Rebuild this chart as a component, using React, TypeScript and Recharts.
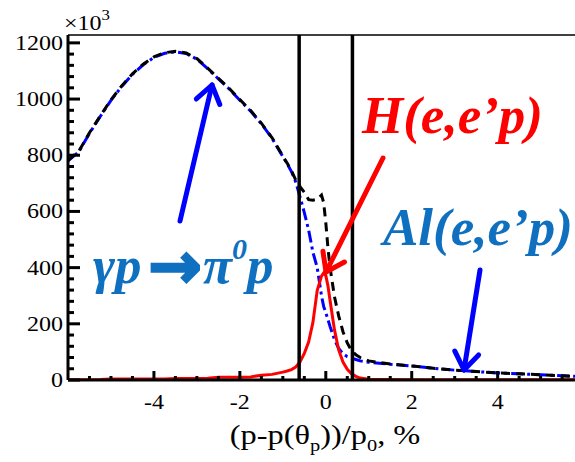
import React from "react";
import { ComposedChart, Line, XAxis, YAxis, ReferenceLine } from "recharts";

const SERIF = "'Liberation Serif', 'Times New Roman', serif";
const ANNOT_BLUE = "#1070c0";

// momentum deviation, % (bin centres)
const xs = [
  -6, -5.75, -5.5, -5.25, -5, -4.75, -4.5, -4.25, -4, -3.75, -3.5, -3.25, -3,
  -2.75, -2.5, -2.25, -2, -1.75, -1.5, -1.25, -1, -0.9, -0.8, -0.7, -0.6, -0.5,
  -0.4, -0.3, -0.2, -0.1, -0.05, 0, 0.05, 0.1, 0.2, 0.3, 0.4, 0.5, 0.6, 0.7, 0.8,
  1, 1.25, 1.5, 2, 2.5, 3, 3.5, 4, 4.5, 5, 5.5, 5.8,
];

// gamma p -> pi0 p simulation (x10^3 counts)
const pionCounts = [
  780, 812, 878, 938, 995, 1045, 1088, 1122, 1148, 1163, 1168, 1162, 1142,
  1108, 1072, 1036, 996, 957, 912, 860, 795, 770, 742, 705, 652, 596,
  534, 455, 400, 300, 262, 240, 215, 190, 145, 112, 94, 83, 78, 73, 68,
  63, 60, 56, 50, 42, 35, 30, 25, 22, 19, 15, 13,
];

// measured total (x10^3 counts)
const totalCounts = [
  782, 814, 880, 940, 997, 1047, 1090, 1124, 1150, 1165, 1170, 1164, 1144,
  1110, 1074, 1038, 998, 959, 914, 862, 797, 772, 745, 712, 688, 668,
  642, 640, 643, 658, 632, 560, 470, 400, 298, 228, 172, 132, 104, 90, 80,
  68, 62, 57, 50, 42, 35, 30, 25, 22, 19, 15, 13,
];

// H(e,e'p) elastic peak (x10^3 counts)
const hydrogenCounts = [
  1, 1, 1, 2, 4, 4, 4, 4, 4, 4, 5, 5, 5,
  6, 10, 10, 10, 11, 17, 20, 28, 32, 37, 46, 64, 95,
  135, 205, 318, 370, 381, 372, 335, 282, 180, 107, 64, 38, 22, 13, 7,
  3, 2, 2, 1, 1, 1, 1, 1, 1, 1, 1, 1,
];

const cutLow = -0.62;
const cutHigh = 0.62;

const xMajor = [-4, -2, 0, 2, 4];
const xTicks = Array.from({ length: 23 }, (_, i) => -5.5 + i * 0.5);
const yTicks = Array.from({ length: 31 }, (_, i) => i * 40);

const data = xs.map((x, i) => ({
  x,
  pion: pionCounts[i],
  total: totalCounts[i],
  hydrogen: hydrogenCounts[i],
}));

function YTick(props: any) {
  const { x, y, payload } = props;
  const v = payload.value as number;
  const major = v % 200 === 0;
  return (
    <g>
      <line x1={x} x2={x + (major ? 12 : 6)} y1={y} y2={y} stroke="#000" strokeWidth={3} />
      {major && (
        <text
          transform={`translate(${x - 5},${y + 7}) scale(1.2,1)`}
          textAnchor="end"
          fontSize={20}
          style={{ fontFamily: SERIF }}
          fill="#000"
        >
          {v}
        </text>
      )}
    </g>
  );
}

function XTick(props: any) {
  const { x, y, payload } = props;
  const v = payload.value as number;
  const major = xMajor.includes(v);
  return (
    <g>
      <line x1={x} x2={x} y1={y} y2={y - (major ? 9 : 4)} stroke="#000" strokeWidth={3} />
      {major && (
        <text
          transform={`translate(${x},${y + 29}) scale(1.2,1)`}
          textAnchor="middle"
          fontSize={20}
          style={{ fontFamily: SERIF }}
          fill="#000"
        >
          {v}
        </text>
      )}
    </g>
  );
}

function Arrow({ from, to, color }: { from: [number, number]; to: [number, number]; color: string }) {
  const dx = from[0] - to[0];
  const dy = from[1] - to[1];
  const len = Math.hypot(dx, dy);
  const ux = dx / len;
  const uy = dy / len;
  const a = (35 * Math.PI) / 180;
  const arm = 21;
  const c = Math.cos(a);
  const s = Math.sin(a);
  const p1 = [to[0] + arm * (ux * c - uy * s), to[1] + arm * (ux * s + uy * c)];
  const p2 = [to[0] + arm * (ux * c + uy * s), to[1] + arm * (-ux * s + uy * c)];
  return (
    <g stroke={color} strokeWidth={5} strokeLinecap="round" fill="none">
      <line x1={from[0]} y1={from[1]} x2={to[0]} y2={to[1]} />
      <polyline points={`${p1[0]},${p1[1]} ${to[0]},${to[1]} ${p2[0]},${p2[1]}`} strokeLinejoin="round" />
    </g>
  );
}

export default function App() {
  return (
    <div style={{ position: "relative", width: 575, height: 462, background: "#fff" }}>
      <style>{"body{margin:0}"}</style>
      <ComposedChart
        width={575}
        height={462}
        data={data}
        margin={{ top: 35, right: 0, bottom: 0, left: 0 }}
      >
        <XAxis
          dataKey="x"
          type="number"
          domain={[-6, 5.8]}
          ticks={xTicks}
          interval={0}
          allowDataOverflow
          tickSize={0}
          tickMargin={0}
          tickLine={false}
          axisLine={{ stroke: "#000", strokeWidth: 3 }}
          tick={XTick}
          height={82}
        />
        <YAxis
          type="number"
          domain={[0, 1228]}
          ticks={yTicks}
          interval={0}
          allowDataOverflow
          tickSize={0}
          tickMargin={0}
          tickLine={false}
          axisLine={{ stroke: "#000", strokeWidth: 3 }}
          tick={YTick}
          width={68}
        />
        <ReferenceLine y={1228} stroke="#000" strokeWidth={1.5} />
        <Line
          type="linear"
          dataKey="pion"
          stroke="#0000ff"
          strokeWidth={3}
          strokeDasharray="12 4 3 4"
          dot={false}
          isAnimationActive={false}
        />
        <Line
          type="linear"
          dataKey="total"
          stroke="#000"
          strokeWidth={3}
          strokeDasharray="9 6"
          dot={false}
          isAnimationActive={false}
        />
        <Line
          type="linear"
          dataKey="hydrogen"
          stroke="#ff0000"
          strokeWidth={3}
          dot={false}
          isAnimationActive={false}
        />
        <ReferenceLine x={cutLow} stroke="#000" strokeWidth={3.5} />
        <ReferenceLine x={cutHigh} stroke="#000" strokeWidth={3.5} />
      </ComposedChart>

      <svg
        width={575}
        height={462}
        style={{ position: "absolute", left: 0, top: 0, pointerEvents: "none" }}
      >
        <text transform="translate(64,30) scale(1.2,1)" fontSize={20} style={{ fontFamily: SERIF }} fill="#000">
          ×10
          <tspan fontSize={14} dy={-10}>3</tspan>
        </text>

        <text
          transform="translate(325,444) scale(1.2,1)"
          textAnchor="middle"
          fontSize={27}
          style={{ fontFamily: SERIF }}
          fill="#000"
        >
          (p-p(θ
          <tspan fontSize={17} dy={7}>p</tspan>
          <tspan dy={-7}>))/p</tspan>
          <tspan fontSize={17} dy={7}>0</tspan>
          <tspan dy={-7}>, %</tspan>
        </text>

        <g style={{ fontFamily: SERIF }} fontWeight="bold" fontStyle="italic" fontSize={53}>
          <text x={362} y={133} fill="#ff0000">H(e,e’p)</text>
          <text x={383} y={245} fill={ANNOT_BLUE}>Al(e,e’p)</text>
          <text x={93} y={283} fill={ANNOT_BLUE}>
            γp
            <tspan
              x={148}
              dy={5}
              fontSize={64}
              fontStyle="normal"
              stroke={ANNOT_BLUE}
              strokeWidth={2.5}
              style={{ fontFamily: "'DejaVu Sans', sans-serif" }}
            >
              →
            </tspan>
            <tspan x={203} dy={-5}>π</tspan>
            <tspan fontSize={30} dy={-24}>0</tspan>
            <tspan dy={24}>p</tspan>
          </text>
        </g>

        <Arrow from={[180, 221]} to={[212, 85]} color="#0000ff" />
        <Arrow from={[383, 158]} to={[326, 272]} color="#ff0000" />
        <Arrow from={[480, 270]} to={[464, 370]} color="#0000ff" />
      </svg>
    </div>
  );
}
